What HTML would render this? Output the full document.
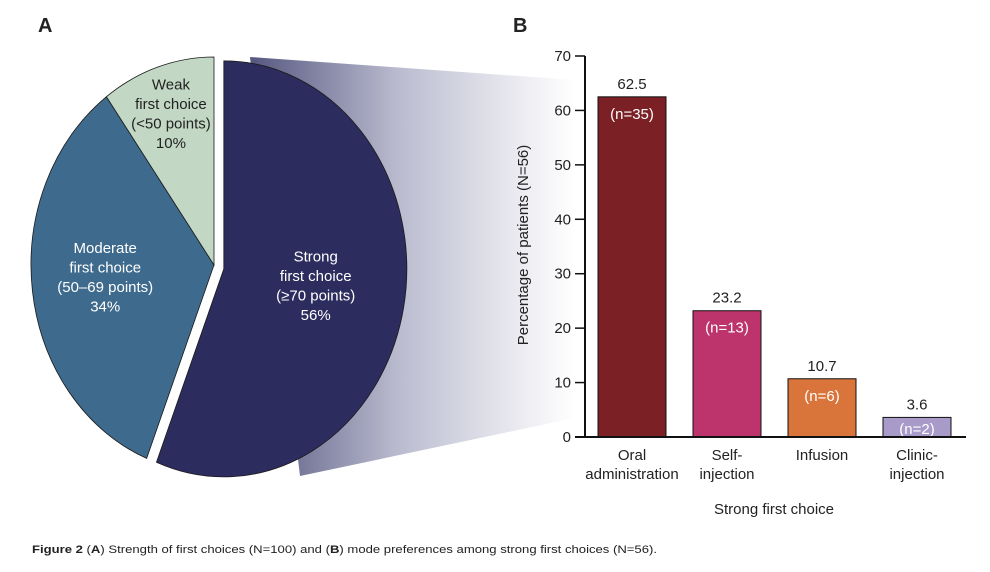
<!DOCTYPE html>
<html><head><meta charset="utf-8">
<style>
body{margin:0;background:#fff;width:990px;height:567px;overflow:hidden;font-family:"Liberation Sans",Arial,sans-serif;}
svg text{font-family:"Liberation Sans",Arial,sans-serif;}
</style></head>
<body>
<svg id="fig" width="990" height="567" viewBox="0 0 990 567" xmlns="http://www.w3.org/2000/svg">
<defs>
<linearGradient id="shade" x1="0" y1="0" x2="1" y2="0">
<stop offset="0" stop-color="#55577f"/>
<stop offset="0.45" stop-color="#b9bace"/>
<stop offset="1" stop-color="#ffffff" stop-opacity="0.9"/>
</linearGradient>
</defs>
<text x="38" y="32" font-size="20" font-weight="bold" fill="#222">A</text>
<text x="513" y="32" font-size="20" font-weight="bold" fill="#222">B</text>
<polygon points="250,57 575,80 575,418 300,476" fill="url(#shade)"/>
<g id="pie"></g>
<g id="bars"></g>
<text x="0" y="0" transform="translate(528,245) rotate(-90)" text-anchor="middle" font-size="15" fill="#222">Percentage of patients (N=56)</text>
<text x="774" y="514" text-anchor="middle" font-size="15" fill="#222">Strong first choice</text>
<text x="32" y="553" font-size="11" fill="#222" textLength="625" lengthAdjust="spacingAndGlyphs"><tspan font-weight="bold">Figure 2</tspan> (<tspan font-weight="bold">A</tspan>) Strength of first choices (N=100) and (<tspan font-weight="bold">B</tspan>) mode preferences among strong first choices (N=56).</text>
</svg>
<script>
const pieLabels=[["Strong","first choice","(≥70 points)","56%"],["Moderate","first choice","(50–69 points)","34%"],["Weak","first choice","(<50 points)","10%"]];
const pieValues=[56,34,10];
const pieColors=["#2d2c5e","#3e6a8d","#c2d8c4"];
const categories=[["Oral","administration"],["Self-","injection"],["Infusion",""],["Clinic-","injection"]];
const values=[62.5,23.2,10.7,3.6];
const counts=["(n=35)","(n=13)","(n=6)","(n=2)"];
const barColors=["#7b2025","#bd336b","#d9743a","#a89bc9"];
const yTicks=[0,10,20,30,40,50,60,70];
const NS="http://www.w3.org/2000/svg";
function mk(p,tag,a){const e=document.createElementNS(NS,tag);for(const k in a)e.setAttribute(k,a[k]);p.appendChild(e);return e;}
const pie=document.getElementById('pie');
const cx=214,cy=265,rx=183,ry=208;
const labelShift=[[2,-5],[-18,-3],[2,-21]];
const total=pieValues.reduce((a,b)=>a+b,0);
let acc=0;
pieValues.forEach((v,i)=>{
 const a0=acc/total*2*Math.PI, a1=(acc+v)/total*2*Math.PI; acc+=v;
 const mid=(a0+a1)/2;
 const off=i===0?10:0;
 const ox=cx+off*Math.sin(mid), oy=cy-off*Math.cos(mid)+ (i===0?2:0);
 const p0=[ox+rx*Math.sin(a0),oy-ry*Math.cos(a0)], p1=[ox+rx*Math.sin(a1),oy-ry*Math.cos(a1)];
 const large=(a1-a0)>Math.PI?1:0;
 const path=mk(pie,'path',{d:`M${ox},${oy} L${p0[0]},${p0[1]} A${rx},${ry} 0 ${large} 1 ${p1[0]},${p1[1]} Z`,fill:pieColors[i],stroke:'#1a1a1a','stroke-width':0.8});
 
 
 const lr=i===2?0.62:0.5;
 const lx=ox+rx*lr*Math.sin(mid)+(i===2?-10:0)+labelShift[i][0], ly=oy-ry*lr*Math.cos(mid)+(i===2?-10:0)+labelShift[i][1];
 const t=mk(pie,'text',{x:lx,y:ly-22,'text-anchor':'middle','font-size':15,fill:i===2?'#222':'#fff'});
 
 
 pieLabels[i].forEach((s,j)=>{const ts=mk(t,'tspan',{x:lx,dy:j?19.5:0});ts.textContent=s;});
});
const bars=document.getElementById('bars');
const X0=585,Y0=437,Y70=56,xEnd=966;
const y=v=>Y0-(v/70)*(Y0-Y70);
const step=95,bw=68,first=598;
const bx=i=>first+i*step;
yTicks.forEach(t=>{
 const l=mk(bars,'line',{x1:575,x2:X0,y1:y(t),y2:y(t),stroke:'#111','stroke-width':1.5});
 
 
 const tx=mk(bars,'text',{x:571,y:y(t)+5,'text-anchor':'end','font-size':15,fill:'#222'});
 tx.textContent=t;
 
 
});
values.forEach((v,i)=>{
 const r=mk(bars,'rect',{x:bx(i),y:y(v),width:bw,height:Y0-y(v),fill:barColors[i],stroke:'#111','stroke-width':1});
 
 
 const vt=mk(bars,'text',{x:bx(i)+bw/2,y:y(v)-8,'text-anchor':'middle','font-size':15,fill:'#222'});
 vt.textContent=v.toFixed(1);
 
 
 const ct=mk(bars,'text',{x:bx(i)+bw/2,y:Math.min(y(v)+22,Y0-3),'text-anchor':'middle','font-size':15,fill:'#fff'});
 ct.textContent=counts[i];
 
 
 categories[i].forEach((s,j)=>{
  const c=mk(bars,'text',{x:bx(i)+bw/2,y:460+j*19,'text-anchor':'middle','font-size':15,fill:'#222'});
  c.textContent=s;
  
  
 });
});
const ya=mk(bars,'line',{x1:X0,x2:X0,y1:Y70,y2:Y0+1,stroke:'#111','stroke-width':2});


const xa=mk(bars,'line',{x1:575,x2:xEnd,y1:Y0,y2:Y0,stroke:'#111','stroke-width':2});


</script>
</body></html>
